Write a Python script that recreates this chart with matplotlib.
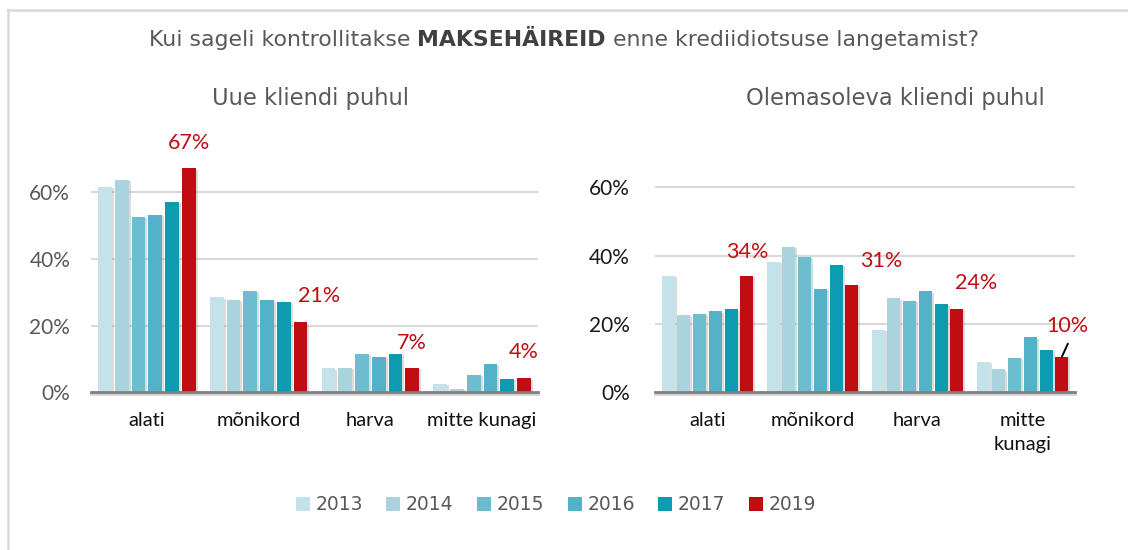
import matplotlib
matplotlib.use("Agg")
import matplotlib.pyplot as plt
import matplotlib.patheffects as pe
from matplotlib.patches import Patch
from matplotlib.lines import Line2D
import numpy as np

# ---------------- data ----------------
years = ["2013", "2014", "2015", "2016", "2017", "2019"]
categories_left = ["alati", "mõnikord", "harva", "mitte kunagi"]
categories_right = ["alati", "mõnikord", "harva", "mitte\nkunagi"]

# Uue kliendi puhul (percent), per year across categories
new_2013 = [61.7, 28.5, 7.2, 2.5]
new_2014 = [63.8, 27.7, 7.4, 1.1]
new_2015 = [52.7, 30.4, 11.6, 5.2]
new_2016 = [53.2, 27.6, 10.6, 8.6]
new_2017 = [57.1, 27.1, 11.6, 4.1]
new_2019 = [67.2, 21.0, 7.4, 4.2]

# Olemasoleva kliendi puhul (percent)
old_2013 = [34.1, 38.1, 18.2, 8.9]
old_2014 = [22.6, 42.6, 27.5, 6.7]
old_2015 = [23.0, 39.6, 26.7, 10.1]
old_2016 = [23.7, 30.2, 29.5, 16.1]
old_2017 = [24.3, 37.3, 25.7, 12.4]
old_2019 = [34.1, 31.4, 24.4, 10.4]

y_ticks = [0, 20, 40, 60]
y_tick_labels = ["0%", "20%", "40%", "60%"]

title_plain1 = "Kui sageli kontrollitakse "
title_bold = "MAKSEHÄIREID"
title_plain2 = " enne krediidiotsuse langetamist?"
subtitle_left = "Uue kliendi puhul"
subtitle_right = "Olemasoleva kliendi puhul"

colors = ["#c4e2e9", "#a9d4de", "#6dbdd1", "#54b2c8", "#0d9bb1", "#c00d11"]
label_color = "#c00d11"

new_series = [new_2013, new_2014, new_2015, new_2016, new_2017, new_2019]
old_series = [old_2013, old_2014, old_2015, old_2016, old_2017, old_2019]

# ---------------- figure ----------------
W, H = 1128, 550
fig = plt.figure(figsize=(W / 100, H / 100), dpi=100)
fig.patch.set_facecolor("white")

FONT = "Lato"

# frame lines (cropped box)
fig.add_artist(Line2D([7.5 / W, 7.5 / W], [0, 1 - 10 / H], transform=fig.transFigure,
                      color="#d9d9d9", lw=1.8))
fig.add_artist(Line2D([7.5 / W, 1], [1 - 10 / H, 1 - 10 / H], transform=fig.transFigure,
                      color="#d9d9d9", lw=1.8))


def make_axes(x0, x1, ybot, px_per_pct, ymax=70):
    height = ymax * px_per_pct
    return fig.add_axes([x0 / W, (H - ybot) / H, (x1 - x0) / W, height / H])


axL = make_axes(91, 538, 392.3, 3.333)
axR = make_axes(655, 1075, 392.3, 3.42)

slot = 0.15
bw = 0.122
shadow = [pe.SimplePatchShadow(offset=(1.5, -1), shadow_rgbFace="#999999", alpha=0.35), pe.Normal()]


def draw(ax, series, cats, tick_color, tick_pad, cat_pad):
    x = np.arange(len(cats))
    for i, (vals, c) in enumerate(zip(series, colors)):
        b = ax.bar(x + (i - 2.5) * slot, vals, width=bw, color=c, zorder=3,
                   label=years[i])
        for p in b:
            p.set_path_effects(shadow)
    ax.set_xlim(-0.5, len(cats) - 0.5)
    ax.set_ylim(0, 70)
    ax.set_yticks(y_ticks)
    ax.set_yticklabels(y_tick_labels, fontfamily=FONT, fontsize=15, color=tick_color)
    ax.set_xticks(x)
    ax.set_xticklabels(cats, fontfamily=FONT, fontsize=14.5, color="#111111",
                       linespacing=1.45)
    ax.tick_params(axis="y", length=0, pad=tick_pad)
    ax.tick_params(axis="x", length=0, pad=cat_pad)
    for s in ["top", "right", "left"]:
        ax.spines[s].set_visible(False)
    ax.spines["bottom"].set_color("#7f7f7f")
    ax.spines["bottom"].set_linewidth(2)
    ax.spines["bottom"].set_zorder(4)
    ax.spines["bottom"].set_path_effects(
        [pe.SimpleLineShadow(offset=(0, -1.5), shadow_color="#aaaaaa", alpha=0.5), pe.Normal()])
    for t in [20, 40, 60]:
        ax.axhline(t, color="#d9d9d9", lw=1.5, zorder=1)
    ax.set_facecolor("none")
    return x


xL = draw(axL, new_series, categories_left, "#595959", 15, 14.5)
xR = draw(axR, old_series, categories_right, "#1a1a1a", 18, 14.5)

# data labels for 2019
offs_left = [(0, 25), (19, 26), (0, 25), (0, 26)]
offs_right = [(0, 24), (29, 24), (19, 26), (5, 31)]
xpos = 2.5 * slot
for ax, xs, vals, offs in [(axL, xL, new_2019, offs_left), (axR, xR, old_2019, offs_right)]:
    for xi, v, (dx, dy) in zip(xs, vals, offs):
        ax.annotate(f"{v:.0f}%", xy=(xi + xpos, v), xytext=(dx, dy),
                    textcoords="offset pixels", ha="center", va="center",
                    fontfamily=FONT, fontsize=15.5, color=label_color,
                    annotation_clip=False, zorder=6)

# leader line for last right label
axR.annotate("", xy=(xR[3] + xpos, old_2019[3]), xytext=(6, 13),
             textcoords="offset pixels",
             arrowprops=dict(arrowstyle="-", color="black", lw=1.4,
                             shrinkA=0, shrinkB=0), zorder=6)

# titles
tfs = 15.8
t1 = fig.text(0, 0, title_plain1, fontfamily="DejaVu Sans", fontsize=tfs, color="#595959")
t2 = fig.text(0, 0, title_bold, fontfamily="DejaVu Sans", fontsize=tfs, color="#404040",
              fontweight="bold")
t3 = fig.text(0, 0, title_plain2, fontfamily="DejaVu Sans", fontsize=tfs, color="#595959")
fig.canvas.draw()
r = fig.canvas.get_renderer()
w1 = t1.get_window_extent(r).width
w2 = t2.get_window_extent(r).width
w3 = t3.get_window_extent(r).width
total = w1 + w2 + w3
xstart = 564 - total / 2
ty = (H - 40) / H
for t, off in [(t1, 0), (t2, w1), (t3, w1 + w2)]:
    t.set_position(((xstart + off) / W, ty))
    t.set_va("center")

fig.text(310 / W, (H - 98) / H, subtitle_left, fontfamily="DejaVu Sans", fontsize=16.3,
         color="#595959", ha="center", va="center")
fig.text(895 / W, (H - 98) / H, subtitle_right, fontfamily="DejaVu Sans", fontsize=16.3,
         color="#595959", ha="center", va="center")

# legend
handles = [Patch(facecolor=c, edgecolor="none", label=y) for c, y in zip(colors, years)]
leg = fig.legend(handles=handles, loc="center", bbox_to_anchor=(556 / W, (H - 505) / H),
                 ncol=6, frameon=False, handlelength=0.75, handleheight=0.75,
                 handletextpad=0.3, columnspacing=1.25,
                 prop={"family": "DejaVu Sans", "size": 13.5})
for txt in leg.get_texts():
    txt.set_color("#595959")

fig.savefig("out.png", dpi=100)
